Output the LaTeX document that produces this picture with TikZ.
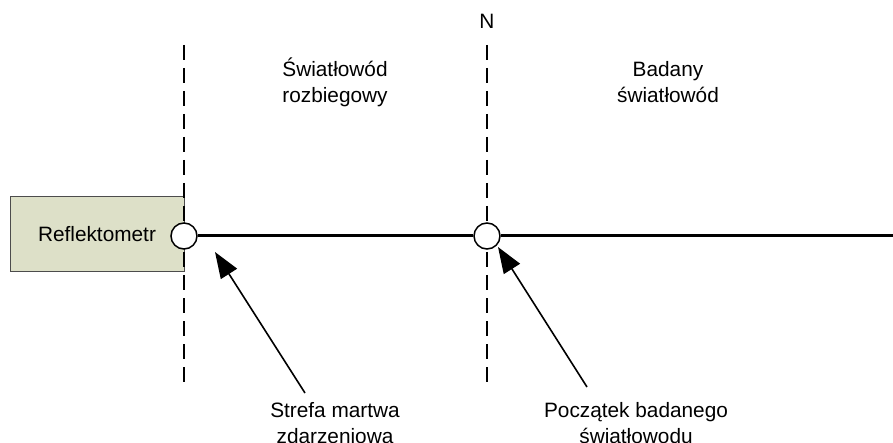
\documentclass[tikz,border=0pt]{standalone}
\usepackage{fontspec}
\setmainfont{Liberation Sans}
\usetikzlibrary{arrows.meta}
\definecolor{boxfill}{RGB}{221,224,200}

\begin{document}
\begin{tikzpicture}[x=1pt, y=-1pt,
    txt/.style={align=center, font=\fontsize{20.8}{26}\selectfont, inner sep=0pt},
    fibre/.style={line width=3pt},
    divider/.style={line width=2pt, dash pattern=on 15pt off 8pt},
    joint/.style={circle, draw, line width=1.5pt, fill=white, minimum size=26pt, inner sep=0pt},
    pointer/.style={line width=1.6pt, -{Triangle[length=26pt, width=19pt]}}]
    \useasboundingbox (0,0) rectangle (893,443);

    % REFLECTOMETER
    \node[txt, draw=black!70, line width=1pt, fill=boxfill, minimum width=174pt, minimum height=75pt] (refl) at (97,234.5) {Reflektometr};

    % SECTION BORDERS
    \draw[divider] (184,45) -- (184,383);
    \draw[divider] (487,45) -- (487,383);

    % CONNECTORS ON THE FIBRE
    \node[joint] (start) at (184,236) {};
    \node[joint] (nconn) at (487,236) {};
    \coordinate (fibreend) at (893,236);
    \draw[fibre] (start) -- (nconn) -- (fibreend);

    % SECTION NAMES (base = last line)
    \node[txt, anchor=base] (nmark) at (487,29) {N};
    \node[txt, anchor=base] (launch) at (335,103) {Światłowód\\rozbiegowy};
    \node[txt, anchor=base] (tested) at (668,103) {Badany\\światłowód};

    % POINTERS
    \node[txt, anchor=base] (dead) at (335,443) {Strefa martwa\\zdarzeniowa};
    \node[txt, anchor=base] (begin) at (636,443) {Początek badanego\\światłowodu};
    \coordinate (deadtail) at (305,393);
    \coordinate (deadtip) at (215,252);
    \coordinate (begintail) at (587,387);
    \coordinate (begintip) at (498,247);
    \draw[pointer] (deadtail) -- (deadtip);
    \draw[pointer] (begintail) -- (begintip);
\end{tikzpicture}
\end{document}
